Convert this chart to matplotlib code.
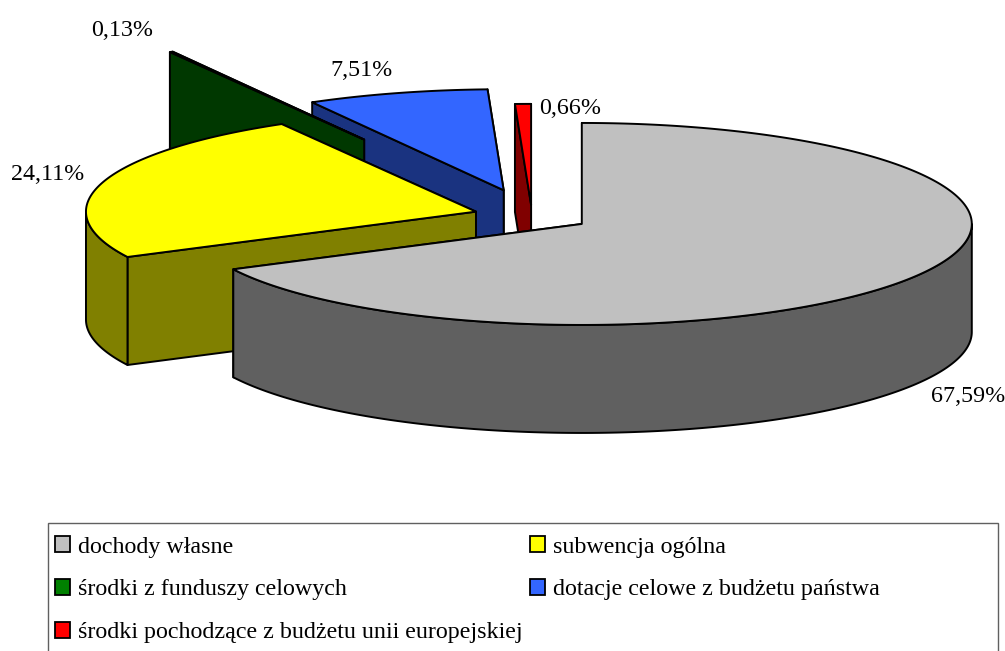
import numpy as np
import matplotlib
matplotlib.use('Agg')
import matplotlib.pyplot as plt
from matplotlib.patches import Patch, Rectangle

plt.rcParams['font.family'] = ['Liberation Serif', 'DejaVu Serif']

# data
categories = ['dochody własne', 'subwencja ogólna', 'środki z funduszy celowych',
              'dotacje celowe z budżetu państwa', 'środki pochodzące z budżetu unii europejskiej']
shares = [67.59, 24.11, 0.13, 7.51, 0.66]
explode = [0.15, 0.15, 0.87, 0.265, 0.11]

top_colors = ['#C0C0C0', '#FFFF00', '#008000', '#3366FF', '#FF0000']
side_colors = ['#606060', '#808000', '#003800', '#1A3380', '#800000']

# pie geometry in pixels
cx, cy = 532, 216
rx, ry = 390, 101
depth = 108
lw = 1.4

fig = plt.figure(figsize=(10.05, 6.51), dpi=100)
ax = fig.add_axes([0, 0, 1, 1])
ax.set_xlim(0, 1005)
ax.set_ylim(651, 0)
ax.axis('off')


def rim(a0, a1, ox, oy):
    # angles in degrees, clockwise from 12 o'clock
    t = np.radians(np.linspace(a0, a1, max(int(abs(a1 - a0) * 2), 2)))
    return ox + rx * np.sin(t), oy - ry * np.cos(t)


def face(x, y, color):
    ax.fill(x, y, facecolor=color, edgecolor='black', linewidth=lw, joinstyle='round')


edges = np.concatenate([[0], np.cumsum(shares)]) / sum(shares) * 360
slices = []
for i in range(len(shares)):
    a0, a1 = edges[i], edges[i + 1]
    mid = np.radians((a0 + a1) / 2)
    ox = cx + explode[i] * rx * np.sin(mid)
    oy = cy - explode[i] * ry * np.cos(mid)
    slices.append((i, a0, a1, ox, oy))

# back to front: blue, red, green, yellow, grey
for i, a0, a1, ox, oy in [slices[k] for k in (3, 4, 2, 1, 0)]:
    for a in (a1, a0):
        ex, ey = rim(a, a, ox, oy)
        face([ox, ex[0], ex[0], ox], [oy, ey[0], ey[0] + depth, oy + depth], side_colors[i])
    lo, hi = max(a0, 90), min(a1, 270)
    if lo < hi:
        wx, wy = rim(lo, hi, ox, oy)
        face(np.concatenate([wx, wx[::-1]]), np.concatenate([wy, wy[::-1] + depth]), side_colors[i])
    x, y = rim(a0, a1, ox, oy)
    face(np.concatenate([[ox], x]), np.concatenate([[oy], y]), top_colors[i])

# percent labels
label_pos = [(968, 396), (48, 175), (122, 30), (362, 70), (570, 108)]
for v, (lx, ly) in zip(shares, label_pos):
    ax.text(lx, ly, f'{v:.2f}'.replace('.', ',') + '%', fontsize=17.3,
            ha='center', va='center', color='black')

# legend box runs off the bottom of the image, no bottom line
ax.add_patch(Rectangle((47.5, 522.5), 950, 160, facecolor='white', edgecolor='#606060', linewidth=1.0))
order = [0, 2, 4, 1, 3]
handles = [Patch(facecolor=top_colors[i], edgecolor='black', linewidth=1.3) for i in order]
ax.legend(handles, [categories[i] for i in order], ncols=2, frameon=False,
          loc='upper left', bbox_to_anchor=(45.4 / 1005, 1 - 526.7 / 651), borderaxespad=0,
          prop={'size': 17.3}, handlelength=0.62, handleheight=0.62, handletextpad=0.33,
          labelspacing=0.9, columnspacing=0.33)

fig.savefig('out.png', dpi=100)
